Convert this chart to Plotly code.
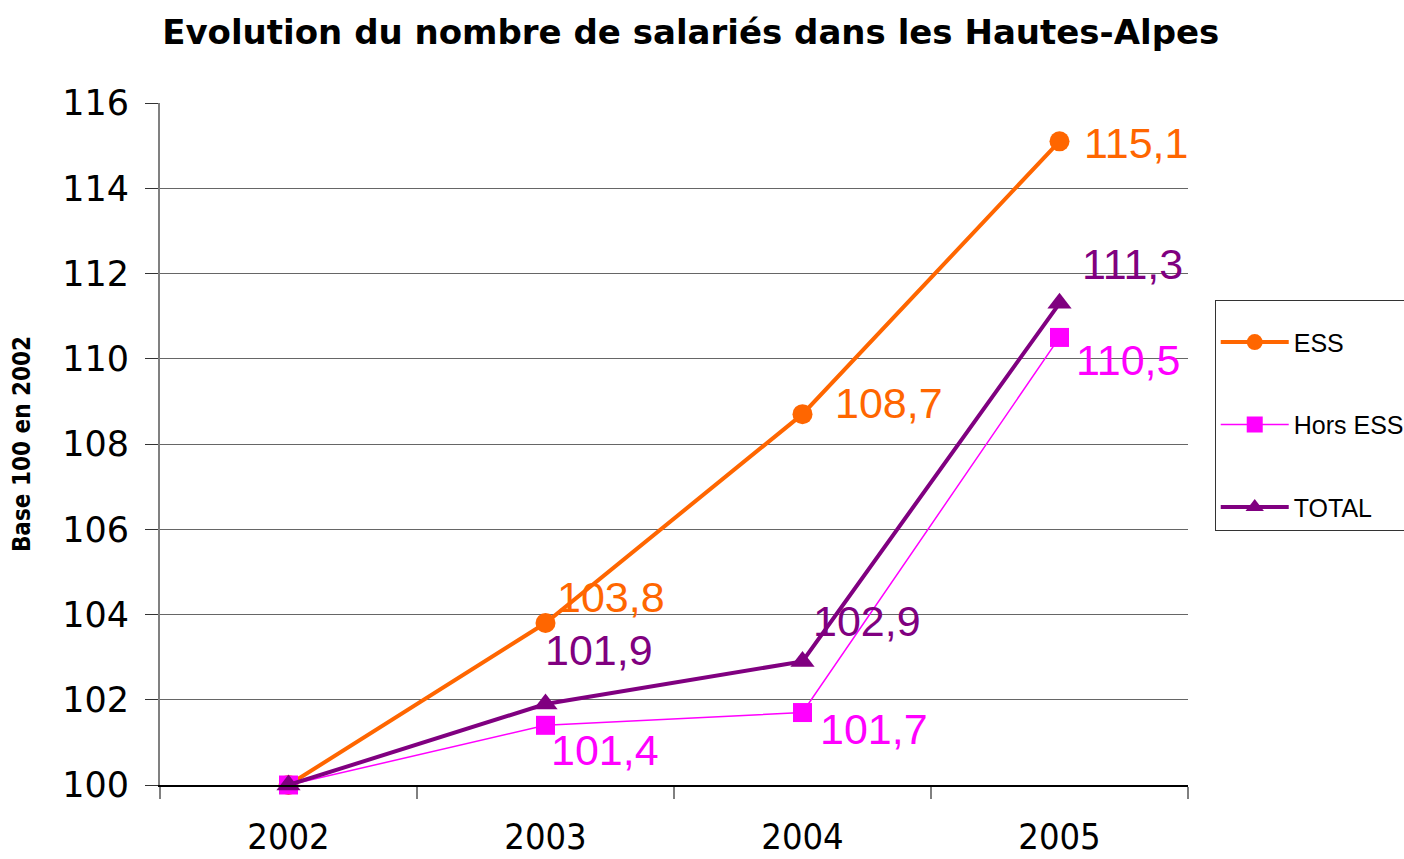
import plotly.graph_objects as go

years = ["2002", "2003", "2004", "2005"]
ess = [100.0, 103.8, 108.7, 115.1]
hors_ess = [100.0, 101.4, 101.7, 110.5]
total = [100.0, 101.9, 102.9, 111.3]
y_ticks = [100, 102, 104, 106, 108, 110, 112, 114, 116]

series = [
    ("ESS", ess, "#FF6600", 4, "circle", 20),
    ("Hors ESS", hors_ess, "#FF00FF", 1.5, "square", 19),
    ("TOTAL", total, "#800080", 4, "triangle-up", 21),
]
# label offsets in pixels (dx, dy up)
label_offsets = {
    "ESS": [None, (65, 26), (86, 11), (76, -2)],
    "Hors ESS": [None, (59, -25), (71, -16), (68, -23)],
    "TOTAL": [None, (53, 54), (64, 40), (73, 39)],
}

fig = go.Figure()
annotations = []
for i, (name, vals, color, lw, sym, ms) in enumerate(series):
    fig.add_trace(go.Scatter(
        x=years, y=vals, name=name, mode="lines+markers",
        line=dict(color=color, width=lw),
        marker=dict(symbol=sym, size=ms, color=color, line=dict(width=0)),
        cliponaxis=False, legendgroup=name,
    ))
    for j, v in enumerate(vals):
        off = label_offsets[name][j]
        if off is None:
            continue
        annotations.append(dict(
            x=j, y=v, xref="x", yref="y", text=f"{v:.1f}".replace(".", ","),
            showarrow=False, xshift=off[0], yshift=off[1],
            font=dict(family="Liberation Sans, Arial", size=43, color=color),
        ))

fig.update_layout(
    width=1404, height=859,
    margin=dict(l=160, r=216, t=103, b=74, autoexpand=False),
    paper_bgcolor="white", plot_bgcolor="white",
    title=dict(text="<b>Evolution du nombre de salariés dans les Hautes-Alpes</b>",
               x=0.492, xanchor="center", y=0.963, yanchor="middle",
               font=dict(family="DejaVu Sans", size=34, color="black")),
    annotations=annotations,
    showlegend=True,
    legend=dict(x=1.026, y=0.711, xanchor="left", yanchor="top",
                bordercolor="#333333", borderwidth=1, bgcolor="white",
                title=dict(text=" ", font=dict(size=14)),
                font=dict(family="Liberation Sans, Arial", size=25, color="black"),
                itemwidth=68, tracegroupgap=47, traceorder="grouped"),
)
fig.update_xaxes(
    type="category", range=[-0.5, 3.5], tickson="boundaries",
    ticks="outside", ticklen=12, tickcolor="#808080", tickwidth=2,
    showline=True, linecolor="black", linewidth=1.5, showgrid=False,
    ticklabelstandoff=19,
    tickfont=dict(family="DejaVu Sans Condensed, DejaVu Sans", size=36, color="black"),
)
fig.update_yaxes(
    range=[100, 116], tickvals=y_ticks, ticktext=[str(t) for t in y_ticks],
    ticks="outside", ticklen=13, tickcolor="#333333", tickwidth=1,
    showline=True, linecolor="#808080", linewidth=2,
    showgrid=True, gridcolor="#666666", gridwidth=1, zeroline=False,
    ticklabelstandoff=9,
    tickfont=dict(family="DejaVu Sans", size=35, color="black"),
    title=dict(text="<b>Base 100 en 2002</b>", standoff=25,
               font=dict(family="DejaVu Sans Condensed, DejaVu Sans", size=24, color="black")),
)
fig.write_html("out.html")
